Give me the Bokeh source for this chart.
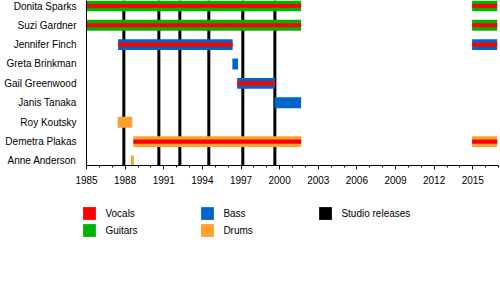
from bokeh.plotting import figure
from bokeh.layouts import column
from bokeh.models import Range1d, FixedTicker, Legend, LegendItem, ColumnDataSource
from bokeh.embed import file_html
from bokeh.resources import INLINE

# ---- data ----
members = ["Donita Sparks", "Suzi Gardner", "Jennifer Finch", "Greta Brinkman",
           "Gail Greenwood", "Janis Tanaka", "Roy Koutsky", "Demetra Plakas",
           "Anne Anderson"]

stint_member = ["Donita Sparks", "Donita Sparks", "Suzi Gardner", "Suzi Gardner",
                "Jennifer Finch", "Jennifer Finch", "Greta Brinkman", "Gail Greenwood",
                "Janis Tanaka", "Roy Koutsky", "Demetra Plakas", "Demetra Plakas",
                "Anne Anderson"]
stint_start = [1985.0, 2014.95, 1985.0, 2014.95,
               1987.45, 2014.95, 1996.33, 1996.7,
               1999.6, 1987.42, 1988.64, 2014.95,
               1988.45]
stint_end = [2001.67, 2016.9, 2001.67, 2016.9,
             1996.35, 2016.9, 1996.77, 1999.65,
             2001.67, 1988.55, 2001.67, 2016.9,
             1988.68]
stint_role = ["Guitars", "Guitars", "Guitars", "Guitars",
              "Bass", "Bass", "Bass", "Bass",
              "Bass", "Drums", "Drums", "Drums",
              "Drums"]
stint_vocals = [True, True, True, True,
                True, True, False, True,
                False, False, True, True,
                False]

release_years = [1987.9, 1990.62, 1992.25, 1994.5, 1997.14, 1999.63]
tick_years = [1985, 1988, 1991, 1994, 1997, 2000, 2003, 2006, 2009, 2012, 2015]
minor_years = list(range(1985, 2018))

legend_labels = ["Vocals", "Guitars", "Bass", "Drums", "Studio releases"]
role_colors = {"Vocals": "#FF0000", "Guitars": "#00B300", "Bass": "#0066CC",
               "Drums": "#FFA030", "Studio releases": "black"}

# ---- sources ----
n = len(members)
row_y = {m: n - 1 - i for i, m in enumerate(members)}
Y0, Y1 = -0.232, 8.273
FONT = "Liberation Sans"


def stint_source(indices):
    return ColumnDataSource(dict(
        y=[row_y[stint_member[i]] for i in indices],
        left=[stint_start[i] for i in indices],
        right=[stint_end[i] for i in indices]))


sources = {}
for role in ["Guitars", "Bass", "Drums"]:
    sources[role] = stint_source([i for i, r in enumerate(stint_role) if r == role])
sources["Vocals"] = stint_source([i for i, v in enumerate(stint_vocals) if v])
rel_src = ColumnDataSource(dict(x=release_years))

# ---- main figure ----
p = figure(width=500, height=195, output_backend="svg", toolbar_location=None,
           x_range=Range1d(1985, 2017), y_range=Range1d(Y0, Y1),
           min_border_left=86, min_border_right=2, min_border_top=0,
           min_border_bottom=30)
p.outline_line_color = None
p.xgrid.visible = False
p.ygrid.visible = False

p.vbar(x="x", width=0.234, bottom=Y0, top=Y1, source=rel_src,
       fill_color=role_colors["Studio releases"], line_color=None)
for role in ["Guitars", "Bass", "Drums"]:
    p.hbar(y="y", left="left", right="right", height=0.56, source=sources[role],
           fill_color=role_colors[role], line_color=None)
p.hbar(y="y", left="left", right="right", height=0.21, source=sources["Vocals"],
       fill_color=role_colors["Vocals"], line_color=None)

xa = p.xaxis[0]
xa.ticker = FixedTicker(ticks=tick_years, minor_ticks=minor_years)
xa.major_tick_out = 4
xa.major_tick_in = 0
xa.minor_tick_out = 2
xa.minor_tick_in = 0
xa.axis_line_color = "black"
xa.major_tick_line_color = "black"
xa.minor_tick_line_color = "black"
xa.major_label_text_font = FONT
xa.major_label_text_font_size = "10px"
xa.major_label_text_color = "black"
xa.major_label_standoff = 6

ya = p.yaxis[0]
ya.ticker = FixedTicker(ticks=list(range(n)))
ya.major_label_overrides = {row_y[m]: m for m in members}
ya.major_tick_out = 0
ya.major_tick_in = 0
ya.minor_tick_line_color = None
ya.axis_line_color = "black"
ya.major_label_text_font = FONT
ya.major_label_text_font_size = "10px"
ya.major_label_text_color = "black"
ya.major_label_standoff = 10

# ---- legend figure (same sources, ranges chosen so nothing is drawn) ----
lg = figure(width=500, height=90, output_backend="svg", toolbar_location=None,
            x_axis_type=None, y_axis_type=None, x_range=Range1d(0, 1),
            y_range=Range1d(100, 101), min_border_left=0, min_border_right=0,
            min_border_top=0, min_border_bottom=0)
lg.outline_line_color = None
lg.xgrid.visible = False
lg.ygrid.visible = False

items = []
for lab in legend_labels:
    if lab == "Studio releases":
        r = lg.vbar(x="x", width=0.234, bottom=Y0, top=Y1, source=rel_src,
                    fill_color=role_colors[lab], line_color=None)
    else:
        r = lg.hbar(y="y", left="left", right="right", height=0.5,
                    source=sources[lab], fill_color=role_colors[lab],
                    line_color=None)
    items.append(LegendItem(label=lab, renderers=[r]))

legend = Legend(items=items, location=(81.4, 46.6), orientation="vertical",
                nrows=2, glyph_width=16, glyph_height=16, label_height=16,
                label_width=93, label_standoff=8, spacing=1, padding=0,
                margin=0, border_line_color=None, background_fill_alpha=0,
                label_text_font=FONT, label_text_font_size="10px",
                label_text_color="black")
lg.add_layout(legend)

layout = column(p, column(lg, spacing=0), spacing=0)
open("out.html", "w").write(file_html(layout, INLINE))
